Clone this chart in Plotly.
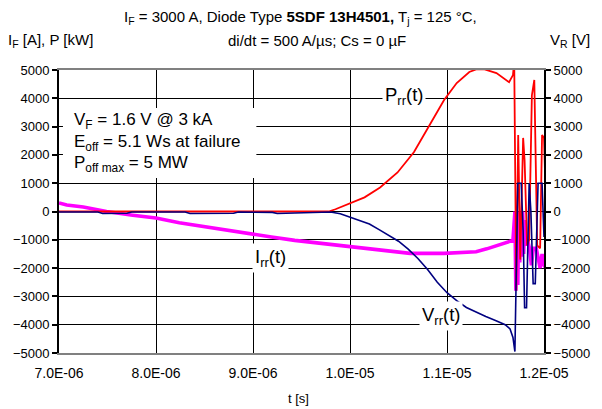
import plotly.graph_objects as go

# ---------------- data (time in microseconds, converted to s) ----------------
t_p_us = [7.00, 9.00, 9.78, 9.85, 9.975, 10.15, 10.31, 10.49, 10.66, 10.82, 10.97,
          11.10, 11.23, 11.30, 11.38, 11.51, 11.64, 11.68, 11.693,
          11.714, 11.734, 11.755, 11.785, 11.80, 11.826, 11.847, 11.875, 11.90,
          11.93, 11.96, 11.98, 12.00, 12.04]
p_kw = [0, 0, 0, 80, 250, 500, 850, 1380, 2100, 3050, 3940,
        4540, 4930, 5020, 5030, 4890, 4570, 4820, 5300,
        -2800, 2700, -1700, 2600, 1800, -1200, -1000, 4100, 4650,
        -1200, -1300, 2700, 2600, -2000]

t_v_us = [7.00, 7.40, 7.45, 7.70, 7.75, 8.30, 8.35, 8.80, 8.85, 9.20, 9.25, 9.60,
          9.80, 9.90, 10.0, 10.1, 10.2, 10.3, 10.4, 10.5, 10.6, 10.7, 10.8,
          10.9, 11.0, 11.1, 11.2, 11.3, 11.4, 11.5, 11.6, 11.65, 11.68, 11.70,
          11.73, 11.765, 11.785, 11.80, 11.82, 11.847, 11.865, 11.888, 11.91,
          11.939, 11.98, 12.00, 12.04]
v_v = [-20, -20, -70, -60, -20, -20, -70, -60, -20, -30, -70, -50,
       -20, -80, -200, -300, -440, -640, -860, -1050, -1330, -1660, -2050,
       -2500, -2870, -3150, -3390, -3560, -3710, -3850, -4000, -4150, -4450, -4950,
       1000, 1000, -700, -3400, -3400, 1000, 0, -2550, -2550,
       1000, 1000, -900, 1000]

t_i_us = [7.00, 7.08, 7.25, 7.49, 7.76, 8.00, 8.24, 8.51, 8.78, 8.98, 9.19, 9.43,
          9.77, 10.11, 10.38, 10.62, 10.97, 11.20, 11.30, 11.41, 11.52, 11.61, 11.68,
          11.70, 11.71, 11.72, 11.73, 11.74, 11.75, 11.76, 11.77, 11.78, 11.79,
          11.80, 11.81, 11.83, 11.85, 11.87, 11.89, 11.92, 11.94, 11.96, 11.98,
          12.00, 12.03]
i_a = [300, 230, 160, 0, -130, -230, -400, -550, -670, -780, -900, -1020,
       -1150, -1300, -1400, -1480, -1480, -1450, -1420, -1320, -1200, -1100, -1020,
       0, -2800, -300, -2600, 0, -1800, -100, -1600, 0, -1500,
       -300, -1200, -1000, -1300, -1900, -1300, -1300, -1600, -2000, -1500,
       -1900, -2050]

x_tick_vals_us = [7.0, 8.0, 9.0, 10.0, 11.0, 12.0]
x_tick_text = ["7.0E-06", "8.0E-06", "9.0E-06", "1.0E-05", "1.1E-05", "1.2E-05"]
y_ticks = [-5000, -4000, -3000, -2000, -1000, 0, 1000, 2000, 3000, 4000, 5000]

t_p = [v * 1e-6 for v in t_p_us]
t_v = [v * 1e-6 for v in t_v_us]
t_i = [v * 1e-6 for v in t_i_us]
x_tick_vals = [v * 1e-6 for v in x_tick_vals_us]

FONT = "Liberation Sans, Arial, sans-serif"

fig = go.Figure()
fig.add_trace(go.Scatter(x=t_v, y=v_v, mode="lines", yaxis="y2",
                         line=dict(color="#000080", width=1.6), name="Vrr"))
fig.add_trace(go.Scatter(x=t_i, y=i_a, mode="lines",
                         line=dict(color="#FF00FF", width=3.6), name="Irr"))
fig.add_trace(go.Scatter(x=t_p, y=p_kw, mode="lines",
                         line=dict(color="#FF0000", width=1.8), name="Prr"))

axis_common = dict(range=[-5000, 5000], tickvals=y_ticks, showline=True,
                   linecolor="black", linewidth=2, ticks="outside", ticklen=5,
                   tickcolor="black", tickwidth=1.5, zeroline=False,
                   tickfont=dict(family=FONT, size=13, color="black"))

fig.update_layout(
    width=602, height=409,
    margin=dict(l=59, r=54, t=70, b=56),
    paper_bgcolor="white", plot_bgcolor="white",
    showlegend=False,
    font=dict(family=FONT, color="black"),
    xaxis=dict(range=[7e-6, 1.2e-5], tickvals=x_tick_vals, ticktext=x_tick_text,
               showgrid=True, gridcolor="black", gridwidth=1,
               showline=True, linecolor="#808080", linewidth=1.5, mirror=True,
               ticks="", zeroline=False, ticklabelstandoff=6,
               tickfont=dict(family=FONT, size=14, color="black")),
    yaxis=dict(**axis_common, showgrid=True, gridcolor="black", gridwidth=1),
    yaxis2=dict(**axis_common, overlaying="y", side="right", showgrid=False),
)

# text box with device data
fig.add_shape(type="rect", xref="paper", yref="paper",
              x0=(63 - 59) / 489, x1=(258 - 59) / 489,
              y0=(353 - 178) / 283, y1=(353 - 108) / 283,
              fillcolor="white", line=dict(width=0), layer="above")
box_lines = ["V<sub>F</sub> = 1.6 V @ 3 kA",
             "E<sub>off</sub> = 5.1 Ws at failure",
             "P<sub>off max</sub> = 5 MW"]
for k, txt in enumerate(box_lines):
    fig.add_annotation(xref="paper", yref="paper", x=(72 - 59) / 489,
                       y=(353 - (121 + 21.5 * k)) / 283, xanchor="left",
                       yanchor="middle", text=txt, showarrow=False,
                       font=dict(family=FONT, size=17, color="black"))

# curve labels
curve_labels = [("P<sub>rr</sub>(t)", 10.56e-6, 4080),
                ("I<sub>rr</sub>(t)", 9.18e-6, -1640),
                ("V<sub>rr</sub>(t)", 10.94e-6, -3680)]
for txt, xv, yv in curve_labels:
    fig.add_annotation(x=xv, y=yv, text=txt, showarrow=False, bgcolor="white",
                       borderpad=2, font=dict(family=FONT, size=18.5, color="black"))

# titles
fig.add_annotation(xref="paper", yref="paper", x=(302 - 59) / 489, y=(353 - 17) / 283,
                   text="I<sub>F</sub> = 3000 A, Diode Type <b>5SDF 13H4501,</b> T<sub>j</sub> = 125 °C,",
                   showarrow=False, xanchor="center", yanchor="middle",
                   font=dict(family=FONT, size=15, color="black"))
fig.add_annotation(xref="paper", yref="paper", x=(319 - 59) / 489, y=(353 - 41) / 283,
                   text="di/dt = 500 A/µs; Cs = 0 µF",
                   showarrow=False, xanchor="center", yanchor="middle",
                   font=dict(family=FONT, size=15, color="black"))
fig.add_annotation(xref="paper", yref="paper", x=(6 - 59) / 489, y=(353 - 41) / 283,
                   text="I<sub>F</sub> [A], P [kW]", showarrow=False,
                   xanchor="left", yanchor="middle",
                   font=dict(family=FONT, size=15, color="black"))
fig.add_annotation(xref="paper", yref="paper", x=(552 - 59) / 489, y=(353 - 41) / 283,
                   text="V<sub>R</sub> [V]", showarrow=False,
                   xanchor="left", yanchor="middle",
                   font=dict(family=FONT, size=15, color="black"))
fig.add_annotation(xref="paper", yref="paper", x=(300 - 59) / 489, y=(353 - 398) / 283,
                   text="t [s]", showarrow=False, xanchor="center", yanchor="middle",
                   font=dict(family=FONT, size=13, color="black"))

fig.write_html("out.html", config={"displayModeBar": False},
               post_script="document.body.style.margin='0';document.body.style.padding='0';")
